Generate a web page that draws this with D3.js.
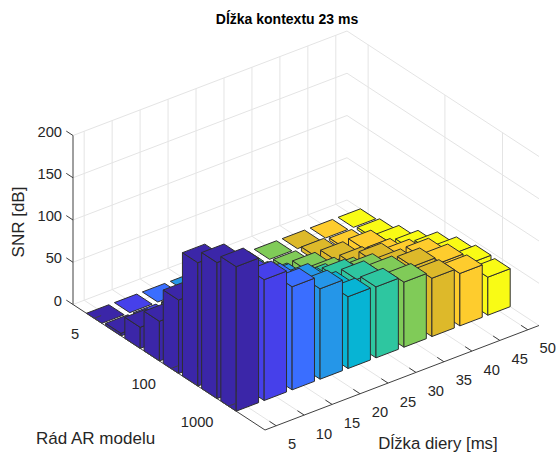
<!DOCTYPE html>
<html><head><meta charset="utf-8">
<style>html,body{margin:0;padding:0;background:#fff}svg{display:block}text{font-family:"Liberation Sans",Arial,sans-serif}</style>
<script src="https://cdn.jsdelivr.net/npm/d3@7"></script></head><body>
<script>
const gapLabels=[5,10,15,20,25,30,35,40,45,50];
const orderTickLabels=["5","100","1000"];
const orderTickRows=[1,5,8];
const zTicks=[0,50,100,150,200];
const colors=["#3b26a8","#4640ea","#3a6eff","#2596e8","#07b4d4","#2ec6a0","#80cb58","#ddb92a","#fecc2d","#f9fb15"];
const row1=[0,0,0,0,0,0,0,0,0,0];
const row2=[3,3,3,3,3,3,3,5,3,3];
const row3=[25,20,18,18,16,16,16,16,17,10];
const row4=[47,35,32,30,28,26,25,25,22,19];
const row5=[87,70,60,52,45,45,40,44,36,32];
const row6=[146,115,95,85,68,65,59,52,52,41];
const row7=[161,135,113,100,78,78,71,68,60,46];
const row8=[171,143,122,107,85,84,77,69,62,45];
const snr=[row1,row2,row3,row4,row5,row6,row7,row8];

const W=556,H=459;
const svg=d3.select("body").append("svg").attr("width",W).attr("height",H);
const L=[73,304.5],F=[265,430],R=[539,325.5];
const cMin=0.6,cMax=10.4,rMin=-0.1,rMax=9.9;
const fc=d3.scaleLinear([cMin,cMax],[0,1]);
const fr=d3.scaleLinear([rMin,rMax],[0,1]);
const zs=d3.scaleLinear([0,200],[0,169]);
const P=(c,r,z)=>{const a=fc(c),b=fr(r);
  return [L[0]+(F[0]-L[0])*b+(R[0]-F[0])*a, L[1]+(F[1]-L[1])*b+(R[1]-F[1])*a-zs(z)];};
const line=d3.line();
const g=svg.append("g");
const gl=(a,b)=>g.append("path").attr("d",line([a,b])).attr("fill","none").attr("stroke","#e4e4e4").attr("stroke-width",1);
zTicks.forEach(z=>{gl(P(cMin,rMin,z),P(cMax,rMin,z));gl(P(cMax,rMin,z),P(cMax,rMax,z));});
gapLabels.forEach((d,i)=>{const c=i+1;gl(P(c,rMin,0),P(c,rMin,200));gl(P(c,rMin,0),P(c,rMax,0));});
orderTickRows.forEach(r=>{gl(P(cMax,r,0),P(cMax,r,200));gl(P(cMin,r,0),P(cMax,r,0));});
const cells=[];
snr.forEach((vals,ri)=>vals.forEach((v,ci)=>cells.push({r:ri+1,c:ci+1,v})));
cells.sort((a,b)=>(a.r-a.c)-(b.r-b.c));
const hw=0.4;
const bars=g.append("g").attr("stroke","#2e2e2e").attr("stroke-width",1).attr("stroke-linejoin","round");
cells.forEach(d=>{
  const c0=d.c-hw,c1=d.c+hw,r0=d.r-hw,r1=d.r+hw,col=colors[d.c-1];
  if(d.v>0){
    bars.append("path").attr("fill",col).attr("d",line([P(c0,r0,0),P(c0,r1,0),P(c0,r1,d.v),P(c0,r0,d.v)])+"Z");
    bars.append("path").attr("fill",col).attr("d",line([P(c0,r1,0),P(c1,r1,0),P(c1,r1,d.v),P(c0,r1,d.v)])+"Z");
  }
  bars.append("path").attr("fill",col).attr("d",line([P(c0,r0,d.v),P(c1,r0,d.v),P(c1,r1,d.v),P(c0,r1,d.v)])+"Z");
});
const ax=svg.append("g").attr("fill","none").attr("stroke","#404040").attr("stroke-width",1);
ax.append("path").attr("d",line([P(cMin,rMin,0),P(cMin,rMin,200)]));
ax.append("path").attr("d",line([P(cMin,rMin,0),P(cMin,rMax,0)]));
ax.append("path").attr("d",line([P(cMin,rMax,0),P(cMax,rMax,0)]));
zTicks.forEach(z=>ax.append("path").attr("d",line([P(cMin,rMin,z),P(cMin,rMin-0.35,z)])));
gapLabels.forEach((d,i)=>ax.append("path").attr("d",line([P(i+1,rMax,0),P(i+1,rMax-0.35,0)])));
orderTickRows.forEach(r=>ax.append("path").attr("d",line([P(cMin,r,0),P(cMin+0.25,r,0)])));
const txt=(x,y,s,size,anchor)=>svg.append("text").attr("x",x).attr("y",y).text(s).attr("font-size",size).attr("text-anchor",anchor||"middle").attr("fill","#262626");
zTicks.forEach(z=>{const p=P(cMin,rMin,z);txt(62,p[1]+1,z,14.7,"end");});
orderTickLabels.forEach((s,i)=>{const p=P(cMin,orderTickRows[i],0);txt(p[0]-15,p[1]+20.5,s,14.7,"end");});
gapLabels.forEach((d,i)=>{const p=P(i+1,rMax,0);txt(p[0]+11.7,p[1]+23.5,d,14.7,"start");});
txt(287,24,"Dĺžka kontextu 23 ms",14,"middle").attr("font-weight","bold").attr("fill","#000");
txt(95.6,443.5,"Rád AR modelu",17,"middle");
txt(438,449,"Dĺžka diery [ms]",16.8,"middle");
svg.append("text").text("SNR [dB]").attr("font-size",17).attr("fill","#262626").attr("text-anchor","middle").attr("transform","translate(24,222) rotate(-90)");
</script></body></html>
